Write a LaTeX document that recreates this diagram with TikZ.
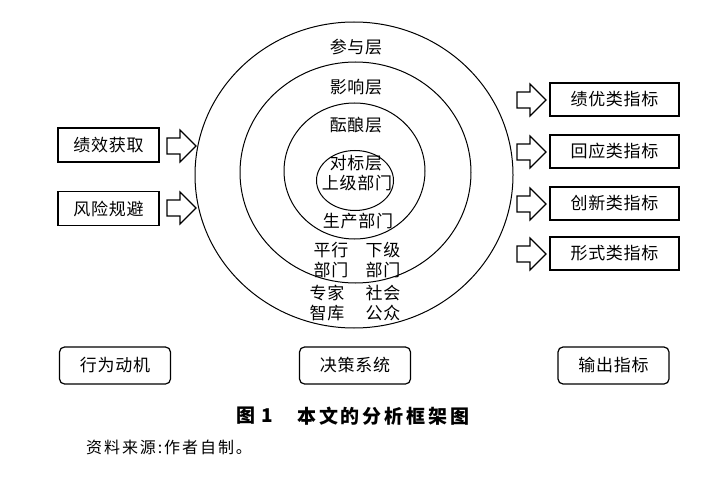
\documentclass[tikz,border=0pt]{standalone}
\usepackage{fontspec}
\setmainfont{Noto Sans CJK SC}[LetterSpace=4]
\usetikzlibrary{shapes.geometric}
\tikzset{
  txt/.style={font=\fontsize{17}{20}\selectfont},
  box/.style={draw, txt, line width=1.2pt, minimum width=101pt, minimum height=34pt, inner sep=0pt},
  rbox/.style={draw, txt, line width=1.2pt, minimum width=129pt, minimum height=33pt, inner sep=0pt},
  sbox/.style={draw, txt, line width=1.2pt, rounded corners=5pt, minimum width=111pt, minimum height=37pt, inner sep=0pt},
  ring/.style={draw, ellipse, line width=1pt, inner sep=0pt},
  lab/.style={txt, inner sep=0pt},
  harrow/.pic={\draw[line width=1.1pt, line join=miter] (0,-8) -- (13,-8) -- (13,-16) -- (29,0) -- (13,16) -- (13,8) -- (0,8) -- cycle;}
}
\begin{document}
\begin{tikzpicture}[x=1pt,y=-1pt]
\useasboundingbox (0,0) rectangle (728,484);
% rings
\node[ring, minimum width=318pt, minimum height=306pt] (c1) at (354,175) {};
\node[ring, minimum width=231pt, minimum height=221pt] (c2) at (355.5,172.5) {};
\node[ring, minimum width=141pt, minimum height=136pt] (c3) at (354.5,171) {};
\node[ring, minimum width=77pt, minimum height=60pt] (c4) at (355,180.5) {};
% ring labels
\node[lab] (t1) at (356,47) {参与层};
\node[lab] (t2) at (356,87) {影响层};
\node[lab] (t3) at (356,125) {酝酿层};
\node[lab] (t4) at (356,163) {对标层};
\node[lab] (t5) at (357,183) {上级部门};
\node[lab] (t6) at (358,221) {生产部门};
\node[lab] (t7) at (331,250) {平行};
\node[lab] (t8) at (383,250) {下级};
\node[lab] (t9) at (331,270) {部门};
\node[lab] (t10) at (383,270) {部门};
\node[lab] (t11) at (327,293) {专家};
\node[lab] (t12) at (383,293) {社会};
\node[lab] (t13) at (327,313) {智库};
\node[lab] (t14) at (383,313) {公众};
% left boxes
\node[box] (l1) at (108.5,145) {绩效获取};
\node[box] (l2) at (108.5,208.5) {风险规避};
\pic at (167,146) {harrow};
\pic at (167,208) {harrow};
% right boxes
\node[rbox] (r1) at (614.5,99.5) {绩优类指标};
\node[rbox] (r2) at (614.5,151.5) {回应类指标};
\node[rbox] (r3) at (614.5,203.5) {创新类指标};
\node[rbox] (r4) at (614.5,253.5) {形式类指标};
\pic at (517,100) {harrow};
\pic at (517,152) {harrow};
\pic at (517,204) {harrow};
\pic at (517,254) {harrow};
% bottom boxes
\node[sbox] (b1) at (115,365.5) {行为动机};
\node[sbox] (b2) at (355,365.5) {决策系统};
\node[sbox] (b3) at (613.5,365.5) {输出指标};
% caption
\node[inner sep=0pt, anchor=west, font=\fontsize{19}{22}\selectfont\bfseries\addfontfeature{LetterSpace=8}] (cap1) at (236,416) {图 1};
\node[inner sep=0pt, anchor=west, font=\fontsize{19}{22}\selectfont\bfseries\addfontfeature{LetterSpace=15}] (cap2) at (297,416) {本文的分析框架图};
\node[inner sep=0pt, anchor=west, font=\fontsize{16}{19}\selectfont\addfontfeature{LetterSpace=12}] (src) at (86,447) {资料来源:作者自制。};
\end{tikzpicture}
\end{document}
